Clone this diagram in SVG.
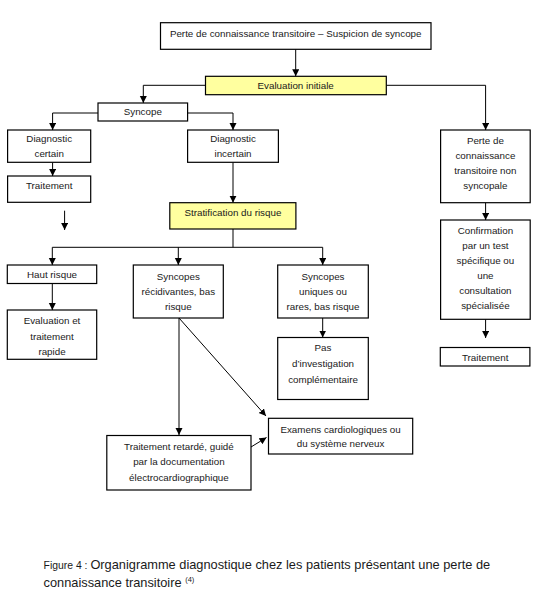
<svg xmlns="http://www.w3.org/2000/svg" width="538" height="599" viewBox="0 0 538 599">
<style>
.box{fill:#ffffff;stroke:#000000;stroke-width:1.2}
.hl{fill:#ffff9f;stroke:#000000;stroke-width:1.2}
.t{font-family:"Liberation Sans",Arial,sans-serif;font-size:9.8px;fill:#1a1a1a;text-anchor:middle}
.c{fill:none;stroke:#000000;stroke-width:1}
.a{marker-end:url(#ah)}
.cap{font-family:"Liberation Sans",Arial,sans-serif;fill:#1a1a1a}
</style>
<defs>
<marker id="ah" markerUnits="userSpaceOnUse" markerWidth="8" markerHeight="8" refX="7" refY="3.5" orient="auto">
<path d="M0,0 L7,3.5 L0,7 z" fill="#000000"/>
</marker>
</defs>
<rect width="538" height="599" fill="#ffffff"/>

<g id="connectors">
<path class="c a" d="M295.7,49.3 V76.3"/>
<path class="c a" d="M205.5,85.3 H143.3 V103"/>
<path class="c a" d="M386.3,85.3 H485.6 V130"/>
<path class="c a" d="M98,113 H52.6 V130"/>
<path class="c a" d="M187.6,113 H233 V130"/>
<path class="c a" d="M52.6,162.3 V176"/>
<path class="c a" d="M64.6,210.7 V230"/>
<path class="c a" d="M233,162.3 V202.7"/>
<path class="c" d="M233,229 V247.3 M52.3,247.3 H322.7"/>
<path class="c a" d="M52.3,247.3 V265"/>
<path class="c a" d="M178.3,247.3 V265"/>
<path class="c a" d="M322.7,247.3 V265"/>
<path class="c a" d="M52.3,283.5 V310"/>
<path class="c a" d="M322.7,318 V337.5"/>
<path class="c a" d="M485.6,202.7 V220"/>
<path class="c a" d="M485.6,319.3 V338"/>
<path class="c a" d="M179,318 V435"/>
<path class="c a" d="M179,318 L266,416"/>
<path class="c a" d="M251,447 L266.5,437.5"/>
</g>

<g id="n_top">
<rect class="box" x="160.5" y="22.7" width="270.5" height="26.6"/>
<text class="t" x="295.7" y="37">Perte de connaissance transitoire – Suspicion de syncope</text>
</g>
<g id="n_eval">
<rect class="hl" x="205.5" y="76.3" width="180.8" height="18.4"/>
<text class="t" x="295.7" y="89">Evaluation initiale</text>
</g>
<g id="n_syncope">
<rect class="box" x="98" y="103" width="89.6" height="18"/>
<text class="t" x="142.8" y="114.5">Syncope</text>
</g>
<g id="n_diag_certain">
<rect class="box" x="7.6" y="130" width="83.1" height="32.3"/>
<text class="t" x="49.2" y="142.2">Diagnostic</text>
<text class="t" x="49.2" y="156.8">certain</text>
</g>
<g id="n_traitement1">
<rect class="box" x="7.6" y="176" width="83.1" height="26.3"/>
<text class="t" x="49.2" y="188.5">Traitement</text>
</g>
<g id="n_diag_incertain">
<rect class="box" x="187.6" y="130" width="90.8" height="32.3"/>
<text class="t" x="233" y="142.2">Diagnostic</text>
<text class="t" x="233" y="156.8">incertain</text>
</g>
<g id="n_strat">
<rect class="hl" x="169.8" y="202.7" width="126.1" height="26.3"/>
<text class="t" x="232.9" y="216.2">Stratification du risque</text>
</g>
<g id="n_haut">
<rect class="box" x="7.3" y="265" width="89.4" height="18.5"/>
<text class="t" x="52" y="277.8">Haut risque</text>
</g>
<g id="n_eval_rapide">
<rect class="box" x="7.3" y="310" width="89.4" height="49.3"/>
<text class="t" x="52" y="324.2">Evaluation et</text>
<text class="t" x="52" y="340.2">traitement</text>
<text class="t" x="52" y="355.2">rapide</text>
</g>
<g id="n_recid">
<rect class="box" x="133.3" y="265" width="90" height="53"/>
<text class="t" x="178.3" y="279.5">Syncopes</text>
<text class="t" x="178.3" y="295.2">récidivantes, bas</text>
<text class="t" x="178.3" y="310.2">risque</text>
</g>
<g id="n_uniques">
<rect class="box" x="277.7" y="265" width="90.6" height="53"/>
<text class="t" x="323" y="279.5">Syncopes</text>
<text class="t" x="323" y="295.2">uniques ou</text>
<text class="t" x="323" y="310.2">rares, bas risque</text>
</g>
<g id="n_pas">
<rect class="box" x="277.7" y="337.5" width="90.6" height="62"/>
<text class="t" x="323" y="351.2">Pas</text>
<text class="t" x="323" y="366.8">d’investigation</text>
<text class="t" x="323" y="382.8">complémentaire</text>
</g>
<g id="n_retarde">
<rect class="box" x="106.8" y="435.5" width="144.2" height="54.5"/>
<text class="t" x="178.9" y="450.2">Traitement retardé, guidé</text>
<text class="t" x="178.9" y="465.2">par la documentation</text>
<text class="t" x="178.9" y="480.8">électrocardiographique</text>
</g>
<g id="n_examens">
<rect class="box" x="268.5" y="418.3" width="144.2" height="35.7"/>
<text class="t" x="340.6" y="432.5">Examens cardiologiques ou</text>
<text class="t" x="340.6" y="446.8">du système nerveux</text>
</g>
<g id="n_non_sync">
<rect class="box" x="440.6" y="130" width="89.6" height="72.7"/>
<text class="t" x="485.4" y="144.2">Perte de</text>
<text class="t" x="485.4" y="159.2">connaissance</text>
<text class="t" x="485.4" y="174.2">transitoire non</text>
<text class="t" x="485.4" y="189.2">syncopale</text>
</g>
<g id="n_confirm">
<rect class="box" x="440.6" y="220" width="89.6" height="99.3"/>
<text class="t" x="485.4" y="233.5">Confirmation</text>
<text class="t" x="485.4" y="248.5">par un test</text>
<text class="t" x="485.4" y="263.5">spécifique ou</text>
<text class="t" x="485.4" y="278.5">une</text>
<text class="t" x="485.4" y="293.5">consultation</text>
<text class="t" x="485.4" y="308.5">spécialisée</text>
</g>
<g id="n_traitement2">
<rect class="box" x="440.3" y="347.5" width="89.6" height="18.5"/>
<text class="t" x="485.2" y="360.5">Traitement</text>
</g>

<g id="caption">
<text class="cap" x="43.6" y="568.5"><tspan font-size="10.4px">Figure 4 : </tspan><tspan font-size="12.8px">Organigramme diagnostique chez les patients présentant une perte de</tspan></text>
<text class="cap" x="43.6" y="586.5" font-size="12.8px">connaissance transitoire <tspan font-size="7.5px" dy="-5">(4)</tspan></text>
</g>
</svg>
